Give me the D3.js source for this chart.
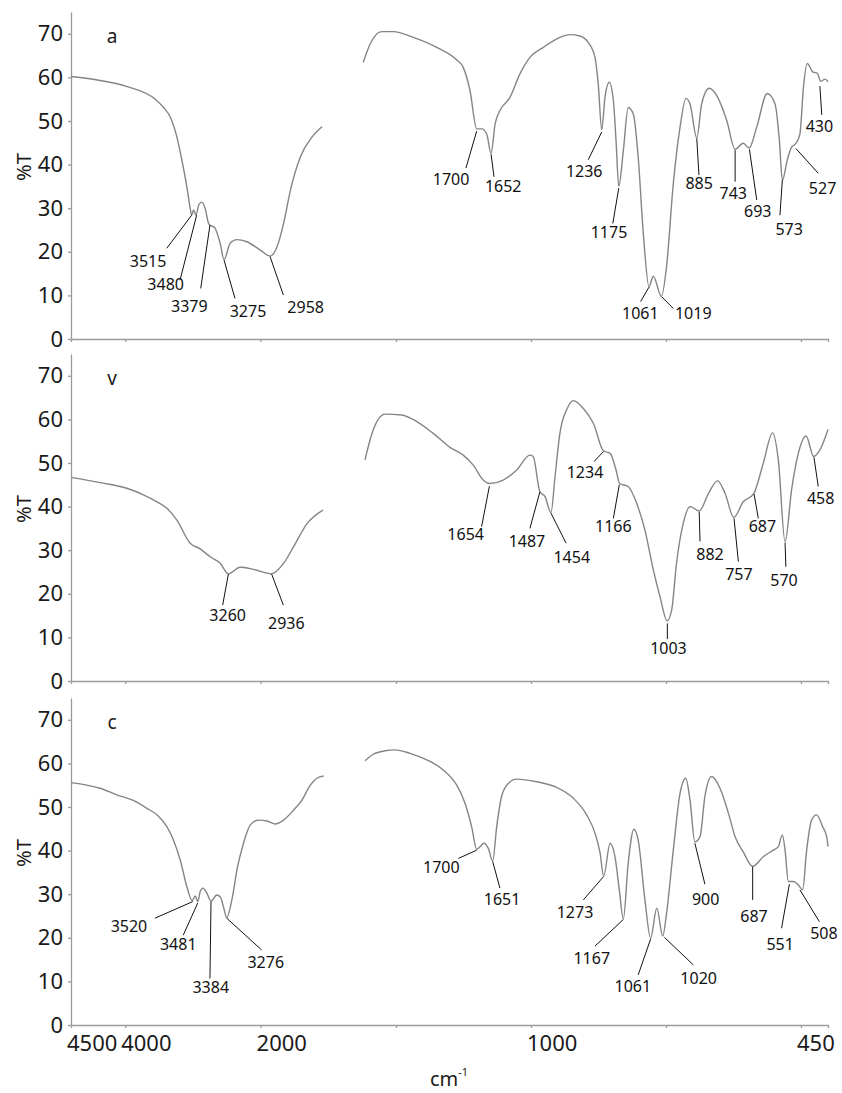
<!DOCTYPE html>
<html>
<head>
<meta charset="utf-8">
<script src="https://cdn.jsdelivr.net/npm/d3@7"></script>
<style>
body { margin: 0; background: #fff; }
svg { font-family: "Noto Sans", sans-serif; }
</style>
</head>
<body>
<div id="chart"></div>
<script>
// spectra: [wavenumber cm-1, %T]; high = 4400-2500 part, low = 2250-400 part
var specA_high = [[4400,60.2],[4185,59.3],[3985,57.9],[3778,55.0],[3719,53.2],[3667,50.9],[3618,46.3],[3581,41.0],[3544,34.8],[3520,30.0],[3509,28.4],[3495,29.6],[3478,28.4],[3455,30.9],[3435,31.4],[3409,29.9],[3384,26.5],[3372,26.1],[3340,25.6],[3298,21.9],[3270,18.2],[3224,22.0],[3175,22.8],[3101,22.3],[3002,20.4],[2930,19.0],[2879,21.1],[2830,26.5],[2780,34.1],[2707,41.7],[2621,46.3],[2547,48.7]];
var specA_low = [[2242,63.4],[2192,67.6],[2106,70.5],[2020,70.5],[1936,69.2],[1849,66.9],[1775,64.0],[1751,62.3],[1726,57.0],[1701,48.2],[1682,48.2],[1664,47.0],[1648,42.6],[1633,49.3],[1615,52.4],[1578,55.4],[1541,60.8],[1504,64.6],[1454,66.9],[1393,69.2],[1356,69.8],[1319,69.5],[1288,68.0],[1263,64.6],[1251,58.5],[1238,48.0],[1226,55.4],[1210,58.9],[1195,54.7],[1185,45.5],[1175,35.0],[1158,43.2],[1140,53.1],[1121,51.6],[1103,41.7],[1084,24.2],[1063,12.0],[1047,14.4],[1017,9.8],[998,16.6],[973,35.6],[948,48.6],[926,55.2],[911,53.9],[886,46.1],[868,53.9],[840,57.5],[812,55.8],[775,50.1],[744,43.5],[714,44.9],[692,43.8],[664,48.6],[625,56.3],[596,53.9],[580,45.5],[569,36.4],[551,41.0],[535,44.0],[520,44.8],[504,47.0],[491,57.7],[477,63.2],[455,61.2],[440,61.0],[427,59.1],[411,59.6],[400,59.0]];

var specV_high = [[4400,46.7],[4185,45.5],[3988,44.2],[3865,42.7],[3766,41.1],[3692,39.6],[3618,36.9],[3520,31.6],[3446,30.3],[3372,28.5],[3298,27.0],[3238,24.6],[3150,26.1],[3052,25.6],[2918,24.6],[2830,27.0],[2756,30.8],[2657,36.1],[2539,39.2]];
var specV_low = [[2229,50.7],[2168,57.6],[2081,61.2],[1979,61.0],[1923,59.5],[1862,56.8],[1800,53.6],[1751,51.8],[1714,49.5],[1677,46.1],[1654,45.3],[1603,46.1],[1553,48.4],[1504,51.8],[1492,51.5],[1467,43.4],[1448,42.3],[1426,38.6],[1411,46.9],[1393,56.8],[1368,62.2],[1343,64.3],[1306,62.5],[1269,59.1],[1232,52.8],[1207,52.2],[1185,48.4],[1172,45.3],[1140,44.6],[1109,40.8],[1078,34.6],[1047,25.5],[1022,19.3],[996,13.8],[979,16.3],[961,27.0],[936,36.2],[911,40.0],[877,39.0],[843,43.0],[809,45.9],[781,43.0],[749,37.5],[714,41.1],[675,43.0],[640,49.9],[605,56.9],[584,50.7],[559,31.9],[535,43.8],[510,52.2],[481,56.2],[453,51.5],[430,53.0],[400,57.7]];

var specC_high = [[4400,55.6],[4185,54.3],[4062,52.8],[3939,51.5],[3840,49.7],[3754,47.9],[3692,45.5],[3643,42.4],[3593,37.8],[3544,31.7],[3505,28.5],[3483,29.6],[3464,28.3],[3446,30.6],[3426,31.4],[3396,30.2],[3367,28.4],[3323,29.8],[3298,29.4],[3274,27.1],[3250,24.6],[3212,28.7],[3170,36.3],[3126,41.7],[3076,45.9],[3015,47.0],[2953,46.8],[2891,46.1],[2830,47.0],[2756,49.3],[2694,51.6],[2633,55.0],[2584,56.6],[2535,57.1]];
var specC_low = [[2229,60.6],[2168,62.1],[2081,62.9],[2007,63.1],[1948,62.3],[1886,60.8],[1825,58.5],[1775,55.0],[1744,50.8],[1720,45.5],[1701,40.3],[1689,40.9],[1674,41.7],[1658,40.5],[1642,37.6],[1627,45.5],[1609,52.4],[1584,55.4],[1553,56.4],[1479,55.8],[1405,54.5],[1343,52.0],[1294,48.2],[1263,44.0],[1244,39.4],[1231,34.1],[1207,41.7],[1189,38.6],[1173,31.0],[1158,24.3],[1140,37.1],[1119,44.9],[1103,42.4],[1078,28.7],[1057,19.9],[1034,26.8],[1012,20.4],[998,25.6],[973,40.1],[948,53.1],[927,56.6],[911,51.6],[893,42.0],[874,43.2],[856,52.4],[831,57.0],[800,54.3],[769,48.6],[744,43.2],[714,39.7],[679,36.4],[640,38.6],[603,40.1],[584,40.9],[569,43.6],[559,40.1],[547,32.9],[528,32.9],[510,32.1],[494,31.0],[479,40.1],[461,47.0],[442,48.2],[420,45.5],[405,43.2],[400,40.9]];

// peak labels: [text, tip w, tip T, leader end w, leader end T, label w, label T]
var peaksA = [
    ["3515",3509,28.4,3693,20.8,3831,17.9],
    ["3480",3472,28.4,3595,13.5,3701,12.6],
    ["3379",3374,26.1,3442,11.6,3526,7.6],
    ["3275",3270,18.1,3189,9.3,3093,6.4],
    ["2958",2930,18.9,2832,10.1,2667,7.3],
    ["1700",1701,47.7,1741,39.2,1796,36.6],
    ["1652",1648,42.4,1637,37.2,1603,35.1],
    ["1236",1238,47.5,1288,41.1,1303,38.5],
    ["1175",1175,34.6,1197,26.5,1211,24.6],
    ["1061",1063,11.9,1094,8.6,1095,5.9],
    ["1019",1016,9.7,973,7.0,899,5.9],
    ["885",886,46.0,878,37.6,877,35.8],
    ["743",744,43.3,744,36.1,751,33.5],
    ["693",691,43.5,664,31.9,660,29.4],
    ["573",569,36.5,578,28.4,544,25.2],
    ["527",519,43.7,436,38.0,420,34.6],
    ["430",430,58.0,423,51.4,432,48.8]
];
var peaksV = [
    ["3260",3238,24.5,3280,17.4,3243,15.1],
    ["2936",2918,24.5,2832,17.4,2810,13.2],
    ["1654",1654,44.7,1683,35.4,1742,33.6],
    ["1487",1467,43.4,1504,35.0,1515,32.1],
    ["1454",1426,38.5,1370,31.6,1349,28.3],
    ["1234",1232,52.6,1267,50.3,1300,47.8],
    ["1166",1173,45.0,1195,37.3,1195,35.6],
    ["1003",995,13.2,995,9.6,991,7.5],
    ["882",877,38.8,874,32.0,837,29.1],
    ["757",748,37.3,732,27.4,730,24.4],
    ["687",674,42.9,658,37.3,643,35.6],
    ["570",559,31.7,556,26.2,563,23.2],
    ["458",452,51.3,436,44.6,427,41.9]
];
var peaksC = [
    ["3520",3501,28.3,3780,24.5,3972,22.7],
    ["3481",3464,28.0,3571,20.6,3608,18.5],
    ["3384",3366,28.3,3374,10.7,3368,8.6],
    ["3276",3250,24.5,2992,17.2,2962,14.3],
    ["1700",1701,40.1,1769,38.2,1832,36.1],
    ["1651",1642,37.5,1615,31.4,1607,28.8],
    ["1273",1232,34.0,1306,28.7,1337,25.8],
    ["1167",1158,24.2,1263,18.1,1275,15.4],
    ["1061",1057,19.7,1103,11.5,1123,8.9],
    ["1020",1006,20.1,899,13.8,879,10.8],
    ["900",893,41.7,856,32.3,853,28.8],
    ["687",679,36.3,679,28.7,674,24.9],
    ["551",543,32.3,572,22.2,577,18.5],
    ["508",504,31.0,432,23.7,415,21.1]
];

var panelNames = ["a", "v", "c"];
var panelSpectra = [[specA_high, specA_low], [specV_high, specV_low], [specC_high, specC_low]];
var panelPeaks = [peaksA, peaksV, peaksC];

var yTicks = [0, 10, 20, 30, 40, 50, 60, 70];
var xTickValues = [4400, 4000, 3000, 2000, 1500, 1000, 500, 400];
var xLabelAt = [4400, 4000, 3000, 1500, 500];
var xLabelText = ["4500", "4000", "2000", "1000", "450"];

var chart = {
    width: 842,
    height: 1093,
    panelBottom: [339, 681, 1025],
    panelHeight: 327,
    view: null,
    initialize: function() {
        var self = this;
        self.view = d3.select("#chart").append("svg")
            .attr("width", self.width)
            .attr("height", self.height);
        // wavenumber axis: 4400-2000 compressed, 2000-400 expanded (x2)
        self.x = d3.scaleLinear().domain([4400, 2000, 400]).range([71, 396, 828]);
        panelNames.forEach(function(name, i) { self.drawPanel(i); });
        self.drawXLabel();
    },

    drawPanel: function(i) {
        var self = this;
        var x = self.x;
        var y0 = self.panelBottom[i];
        var y = d3.scaleLinear().domain([0, 75]).range([y0, y0 - self.panelHeight]);
        var g = self.view.append("g");

        var yAxis = g.append("g")
            .attr("transform", "translate(" + x.range()[0] + ",0)")
            .call(d3.axisLeft(y).tickValues(yTicks).tickSize(3).tickSizeOuter(0).tickPadding(5));
        yAxis.selectAll("text").attr("font-size", 22).attr("fill", "#1a1a1a")
            .attr("font-family", "Noto Sans");

        var isLast = i === panelNames.length - 1;
        var xAxis = g.append("g")
            .attr("transform", "translate(0," + y0 + ")")
            .call(d3.axisBottom(x).tickValues(xTickValues).tickSize(3).tickSizeOuter(0).tickFormat(""));
        g.selectAll(".domain, .tick line").attr("stroke", "#9a9a9a").attr("stroke-width", 1.3);

        if (isLast) {
            g.append("g").selectAll("text")
                .data(xLabelAt)
                .enter()
                .append("text")
                .attr("x", function(d) { return x(d) - 4; })
                .attr("y", y0 + 26)
                .attr("font-size", 22)
                .attr("fill", "#1a1a1a")
                .text(function(d, k) { return xLabelText[k]; });
        }

        g.append("text")
            .attr("transform", "translate(24," + (y0 - 172) + ") rotate(-90)")
            .attr("text-anchor", "middle")
            .attr("dy", "0.35em")
            .attr("font-size", 20)
            .attr("fill", "#1a1a1a")
            .text("%T");

        g.append("text")
            .attr("x", 112)
            .attr("y", y0 - self.panelHeight + 31)
            .attr("text-anchor", "middle")
            .attr("font-size", 19)
            .attr("fill", "#1a1a1a")
            .text(panelNames[i]);

        var line = d3.line()
            .x(function(d) { return x(d[0]); })
            .y(function(d) { return y(d[1]); })
            .curve(d3.curveMonotoneX);

        g.selectAll("path.spec")
            .data(panelSpectra[i])
            .enter()
            .append("path")
            .attr("class", "spec")
            .attr("d", line)
            .attr("fill", "none")
            .attr("stroke", "#858585")
            .attr("stroke-width", 1.4);

        var peaks = g.append("g").selectAll("g")
            .data(panelPeaks[i])
            .enter()
            .append("g");
        peaks.append("line")
            .attr("x1", function(d) { return x(d[1]); })
            .attr("y1", function(d) { return y(d[2]); })
            .attr("x2", function(d) { return x(d[3]); })
            .attr("y2", function(d) { return y(d[4]); })
            .attr("stroke", "#111")
            .attr("stroke-width", 1);
        peaks.append("text")
            .attr("x", function(d) { return x(d[5]); })
            .attr("y", function(d) { return y(d[6]); })
            .attr("dy", "0.36em")
            .attr("text-anchor", "middle")
            .attr("font-size", 16)
            .attr("fill", "#111")
            .text(function(d) { return d[0]; });
    },

    drawXLabel: function() {
        var self = this;
        var t = self.view.append("text")
            .attr("x", 430)
            .attr("y", 1086)
            .attr("font-size", 20)
            .attr("fill", "#1a1a1a")
            .text("cm");
        t.append("tspan")
            .attr("dy", -10)
            .attr("font-size", 11)
            .text("-1");
    }
};

chart.initialize();
</script>
</body>
</html>
